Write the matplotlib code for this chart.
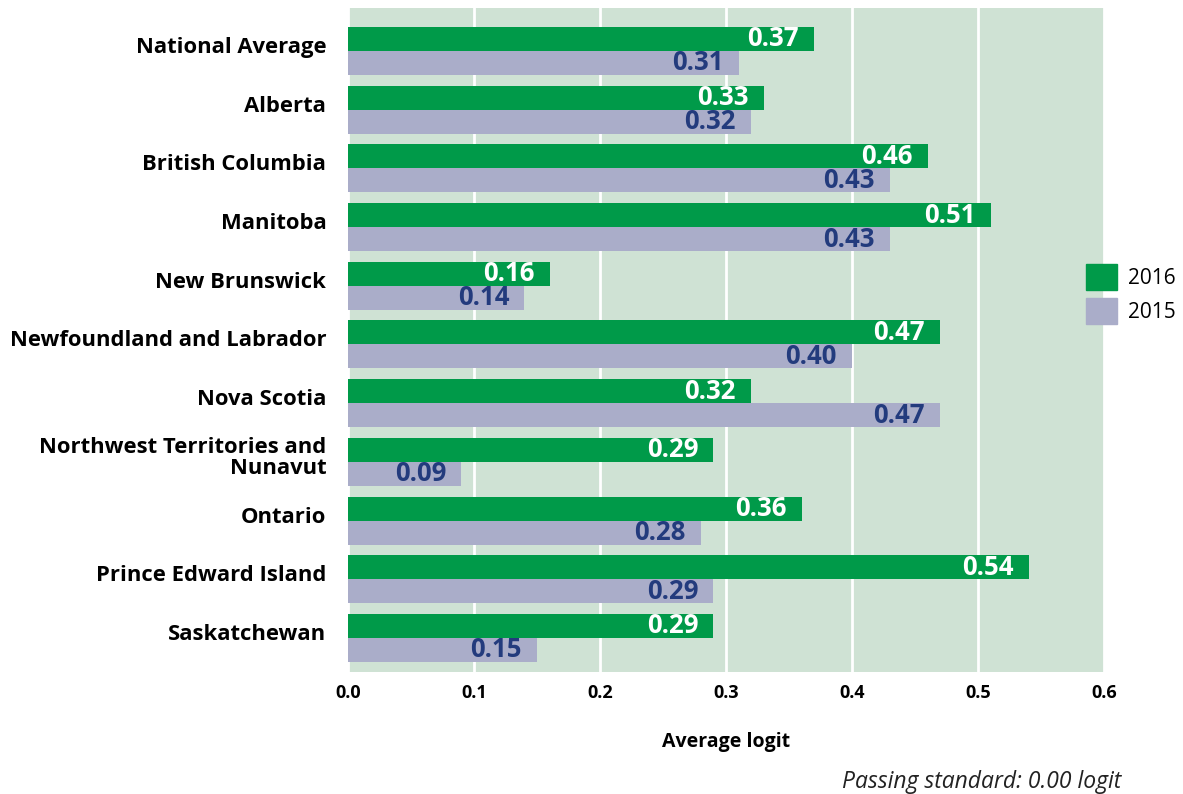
import numpy as np
import matplotlib.pyplot as plt
from matplotlib.patches import Patch
from matplotlib.transforms import ScaledTranslation

plt.rcParams['font.family'] = ['Open Sans', 'DejaVu Sans']

provinces = ['National Average', 'Alberta', 'British Columbia', 'Manitoba',
             'New Brunswick', 'Newfoundland and Labrador', 'Nova Scotia',
             'Northwest Territories and\nNunavut', 'Ontario',
             'Prince Edward Island', 'Saskatchewan']
vals_2016 = [0.37, 0.33, 0.46, 0.51, 0.16, 0.47, 0.32, 0.29, 0.36, 0.54, 0.29]
vals_2015 = [0.31, 0.32, 0.43, 0.43, 0.14, 0.40, 0.47, 0.09, 0.28, 0.29, 0.15]
xticks = [0.0, 0.1, 0.2, 0.3, 0.4, 0.5, 0.6]

green = '#009a49'
lilac = '#aaadc9'
navy = '#233b7d'
bg = '#cfe2d4'

fig = plt.figure(figsize=(11.83, 7.94), dpi=100)
ax = fig.add_axes([0.294, 0.1537, 0.6394, 0.8363])
ax.set_facecolor(bg)

y = np.arange(len(provinces))
h = 0.409
b16 = ax.barh(y - h / 2, vals_2016, height=h, color=green, zorder=3)
b15 = ax.barh(y + h / 2, vals_2015, height=h, color=lilac, zorder=3)

for bar, v in zip(b16, vals_2016):
    ax.text(v - 0.012, bar.get_y() + bar.get_height() / 2, f'{v:.2f}',
            ha='right', va='center', color='white', fontsize=18.5,
            fontweight='bold', zorder=4)
for bar, v in zip(b15, vals_2015):
    ax.text(v - 0.012, bar.get_y() + bar.get_height() / 2, f'{v:.2f}',
            ha='right', va='center', color=navy, fontsize=18.5,
            fontweight='bold', zorder=4)

ax.set_xlim(0, 0.6)
ax.set_ylim(10.58, -0.733)
ax.set_xticks(xticks)
ax.set_xticklabels([f'{t:.1f}' for t in xticks], fontsize=13, fontweight='bold')
ax.set_yticks(y)
ax.set_yticklabels(provinces, fontsize=15.8, fontweight='bold', linespacing=0.95)
ax.tick_params(length=0, pad=15.5)
ax.tick_params(axis='x', pad=9)
# nudge province names slightly above the group centre
shift = ScaledTranslation(0, 6 / 100, fig.dpi_scale_trans)
for lbl in ax.get_yticklabels():
    lbl.set_transform(lbl.get_transform() + shift)
ax.grid(axis='x', color='white', linewidth=2, zorder=1)
for s in ax.spines.values():
    s.set_visible(False)

ax.set_xlabel('Average logit', fontsize=14, fontweight='bold', labelpad=21)

fig.legend(handles=[Patch(color=green, label='2016'), Patch(color=lilac, label='2015')],
           loc='center left', bbox_to_anchor=(0.918, 0.6297), frameon=False,
           borderpad=0, borderaxespad=0,
           fontsize=15, handlelength=1.49, handleheight=1.54, handletextpad=0.53,
           labelspacing=0.38)

fig.text(0.948, 0.0, 'Passing standard: 0.00 logit', ha='right', va='bottom',
         fontsize=16.5, style='italic', color='#222222')

fig.savefig('out.png', dpi=100)
